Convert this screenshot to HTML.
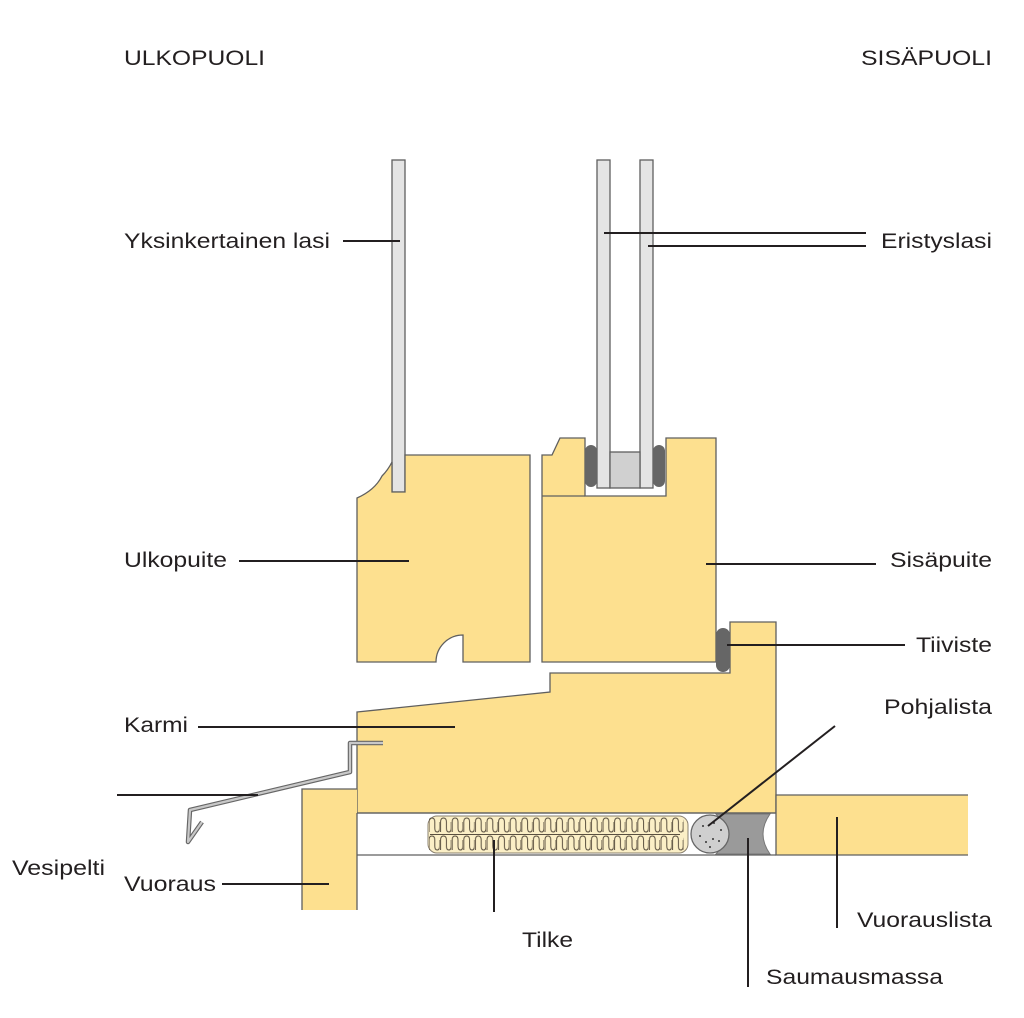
<!DOCTYPE html>
<html><head><meta charset="utf-8"><style>
html,body{margin:0;padding:0;background:#fff;}
svg{display:block;}
text{font-family:"Liberation Sans",Arial,sans-serif;font-size:21px;fill:#231f20;}
</style></head><body>
<svg width="1024" height="1018" viewBox="0 0 1024 1018" xmlns="http://www.w3.org/2000/svg">
<defs>
<pattern id="wave" x="428" y="816" width="11.6" height="18" patternUnits="userSpaceOnUse">
<path d="M1,16 L1,6 Q1,2 3.9,2 Q6.8,2 6.8,6 L6.8,12 Q6.8,16 9.2,16 Q11.6,16 11.6,12 L11.6,6" fill="none" stroke="#5a5040" stroke-width="1"/>
</pattern>
</defs>
<g stroke="#5f5f5f" stroke-width="1.3">
<rect x="392" y="160" width="13" height="332" fill="#e4e4e4"/>
<path d="M405,455 L530,455 L530,662 L463,662 L463,635 A27,27 0 0 0 436,662 L357,662 L357,498 Q375,490 382,476 Q388,470 392,462 L392,492 L405,492 Z" fill="#fde08f"/>
<path d="M542,455 L552,455 L560,438 L585,438 L585,496 L666,496 L666,438 L716,438 L716,662 L542,662 Z" fill="#fde08f"/>
<line x1="542" y1="496" x2="585" y2="496"/>
<rect x="597" y="160" width="13" height="328" fill="#e4e4e4"/>
<rect x="640" y="160" width="13" height="328" fill="#e4e4e4"/>
<rect x="610" y="452" width="30" height="36" fill="#d0d0d0"/>
</g>
<rect x="585" y="445" width="12" height="42" rx="6" fill="#666"/>
<rect x="653" y="445" width="12" height="42" rx="6" fill="#666"/>
<g stroke="#5f5f5f" stroke-width="1.3">
<path d="M357,712 L550,692 L550,673 L730,673 L730,622 L776,622 L776,813 L357,813 Z" fill="#fde08f"/>
<rect x="302" y="789" width="55" height="121" fill="#fde08f" stroke="none"/>
<path d="M302,910 L302,789 L357,789" fill="none"/>
<path d="M968,795 L776,795 L776,855 L968,855" fill="#fde08f"/>
<line x1="357" y1="813" x2="776" y2="813"/>
<line x1="357" y1="855" x2="776" y2="855"/>
<line x1="357" y1="813" x2="357" y2="910"/>
</g>
<rect x="716" y="628" width="14" height="44" rx="7" fill="#666"/>
<rect x="428" y="816" width="260" height="37" rx="9" fill="#fbefc6" stroke="#8a8070" stroke-width="1"/>
<rect x="429" y="816" width="255" height="37" fill="url(#wave)"/>
<line x1="430" y1="834.5" x2="680" y2="834.5" stroke="#5a5040" stroke-width="1"/>
<path d="M716,814 L770,814 Q756,834 770,854 L716,854 Q734,834 716,814 Z" fill="#9a9a9a" stroke="#777" stroke-width="1"/>
<circle cx="710" cy="834" r="19" fill="#cfcfcf" stroke="#666" stroke-width="1.3"/>
<g fill="#333"><circle cx="703" cy="826" r="1"/><circle cx="714" cy="823" r="1"/><circle cx="721" cy="830" r="1"/><circle cx="700" cy="836" r="1"/><circle cx="706" cy="842" r="1"/><circle cx="713" cy="839" r="1"/><circle cx="719" cy="841" r="1"/><circle cx="710" cy="847" r="1"/></g>
<path d="M383,743 L350,743 L350,772 L190,810 L188,842 L202,822" fill="none" stroke="#666" stroke-width="4.5" stroke-linejoin="round"/>
<path d="M383,743 L350,743 L350,772 L190,810 L188,842 L202,822" fill="none" stroke="#c8c8c8" stroke-width="2.2" stroke-linejoin="round"/>
<g stroke="#231f20" stroke-width="2">
<line x1="343" y1="241" x2="400" y2="241"/>
<line x1="604" y1="233" x2="866" y2="233"/>
<line x1="648" y1="246" x2="866" y2="246"/>
<line x1="239" y1="561" x2="409" y2="561"/>
<line x1="706" y1="564" x2="876" y2="564"/>
<line x1="727" y1="645" x2="905" y2="645"/>
<line x1="198" y1="727" x2="455" y2="727"/>
<line x1="835" y1="726" x2="708" y2="826"/>
<line x1="117" y1="795" x2="258" y2="795"/>
<line x1="222" y1="884" x2="329" y2="884"/>
<line x1="494" y1="840" x2="494" y2="912"/>
<line x1="748" y1="838" x2="748" y2="987"/>
<line x1="837" y1="817" x2="837" y2="928"/>
</g>
<text x="124" y="65" textLength="141" lengthAdjust="spacingAndGlyphs">ULKOPUOLI</text>
<text x="861" y="65" textLength="131" lengthAdjust="spacingAndGlyphs">SISÄPUOLI</text>
<text x="124" y="248" textLength="206" lengthAdjust="spacingAndGlyphs">Yksinkertainen lasi</text>
<text x="881" y="248" textLength="111" lengthAdjust="spacingAndGlyphs">Eristyslasi</text>
<text x="124" y="567" textLength="103" lengthAdjust="spacingAndGlyphs">Ulkopuite</text>
<text x="890" y="567" textLength="102" lengthAdjust="spacingAndGlyphs">Sisäpuite</text>
<text x="916" y="652" textLength="76" lengthAdjust="spacingAndGlyphs">Tiiviste</text>
<text x="884" y="714" textLength="108" lengthAdjust="spacingAndGlyphs">Pohjalista</text>
<text x="124" y="732" textLength="64" lengthAdjust="spacingAndGlyphs">Karmi</text>
<text x="12" y="875" textLength="93" lengthAdjust="spacingAndGlyphs">Vesipelti</text>
<text x="124" y="891" textLength="92" lengthAdjust="spacingAndGlyphs">Vuoraus</text>
<text x="522" y="947" textLength="51" lengthAdjust="spacingAndGlyphs">Tilke</text>
<text x="857" y="927" textLength="135" lengthAdjust="spacingAndGlyphs">Vuorauslista</text>
<text x="766" y="984" textLength="177" lengthAdjust="spacingAndGlyphs">Saumausmassa</text>
</svg>
</body></html>
